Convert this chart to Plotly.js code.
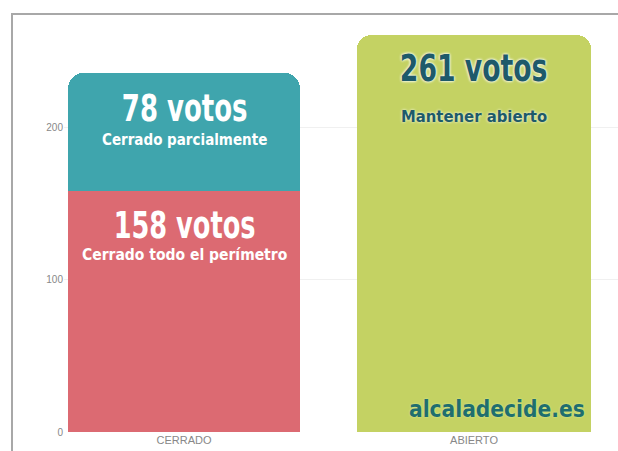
<!DOCTYPE html>
<html>
<head>
<meta charset="utf-8">
<script src="https://cdn.plot.ly/plotly-3.0.1.min.js"></script>
<style>html,body{margin:0;padding:0;background:#fff;}</style>
</head>
<body>
<div id="chart" style="width:618px;height:451px;"></div>
<script>
const categories = ['CERRADO', 'ABIERTO'];
const cerradoTodo = [158];
const cerradoParcial = [78];
const abierto = [261];
const labelTodo = 'Cerrado todo el perímetro';
const labelParcial = 'Cerrado parcialmente';
const labelAbierto = 'Mantener abierto';
const tickValues = [0, 100, 200];
const tickLabels = ['0', '100', '200'];
const watermark = 'alcaladecide.es';

const narrow = '"DejaVu Sans Condensed", "DejaVu Sans", sans-serif';

const traces = [
  {type: 'bar', x: [categories[0]], y: cerradoTodo, marker: {color: '#dc6a72'}, width: 0.8, hoverinfo: 'skip'},
  {type: 'bar', x: [categories[0]], y: cerradoParcial, marker: {color: '#3fa5ad'}, width: 0.8, hoverinfo: 'skip'},
  {type: 'bar', x: [categories[1]], y: abierto, marker: {color: '#c4d263'}, width: 0.81, hoverinfo: 'skip'}
];

const total0 = cerradoTodo[0] + cerradoParcial[0];
// [annotation, horizontal squeeze]
const annSpecs = [
  [{x: categories[0], y: total0 - 23, xref: 'x', yref: 'y', text: '<b>' + cerradoParcial[0] + ' votos</b>', showarrow: false,
   font: {family: narrow, size: 38, color: '#ffffff'}}, 0.76],
  [{x: categories[0], y: total0 - 44, xref: 'x', yref: 'y', text: '<b>' + labelParcial + '</b>', showarrow: false,
   font: {family: narrow, size: 15, color: '#ffffff'}}, 1],
  [{x: categories[0], y: cerradoTodo[0] - 22, xref: 'x', yref: 'y', text: '<b>' + cerradoTodo[0] + ' votos</b>', showarrow: false,
   font: {family: narrow, size: 38, color: '#ffffff'}}, 0.75],
  [{x: categories[0], y: cerradoTodo[0] - 42, xref: 'x', yref: 'y', text: '<b>' + labelTodo + '</b>', showarrow: false,
   font: {family: narrow, size: 15.5, color: '#ffffff'}}, 1],
  [{x: categories[1], y: abierto[0] - 22, xref: 'x', yref: 'y', text: '<b>' + abierto[0] + ' votos</b>', showarrow: false,
   font: {family: narrow, size: 38, color: '#1e5a6a', shadow: '0 0 3px #ffffff, 0 0 3px #ffffff'}}, 0.78],
  [{x: categories[1], y: abierto[0] - 54, xref: 'x', yref: 'y', text: '<b>' + labelAbierto + '</b>', showarrow: false,
   font: {family: narrow, size: 16.5, color: '#1e5a6a', shadow: '0 0 3px #ffffff'}}, 1],
  [{x: 1.08, y: 15, xref: 'x', yref: 'y', text: '<b>' + watermark + '</b>', showarrow: false,
   font: {family: narrow, size: 22.5, color: '#1f6e6e', shadow: '0 0 2px #d8f0a0'}}, 1]
];
const annotations = annSpecs.map(s => s[0]);

const L = 64, W = 554, T = 21, H = 411;
const px = v => (v - L) / W;
const py = v => (T + H - v) / H;

const tickFont = {family: 'Liberation Sans, Arial, sans-serif', size: 10, color: '#888'};

const layout = {
  width: 618, height: 451,
  margin: {l: L, r: 0, t: T, b: 19, pad: 0},
  paper_bgcolor: '#ffffff', plot_bgcolor: '#ffffff',
  barmode: 'stack',
  barcornerradius: 16,
  showlegend: false,
  xaxis: {type: 'category', categoryarray: categories, range: [-0.4138, 1.4966], showgrid: false, zeroline: false,
    showline: false, ticks: '', tickfont: {family: 'Liberation Sans, Arial, sans-serif', size: 11, color: '#888'}, fixedrange: true},
  yaxis: {range: [0, 270], tickvals: tickValues, ticktext: tickLabels, showgrid: true, gridcolor: '#f0f0f0', gridwidth: 1,
    zeroline: false, showline: false, ticks: '', ticklen: 0, tickfont: tickFont, fixedrange: true},
  annotations: annotations,
  shapes: [
    {type: 'line', xref: 'paper', yref: 'paper', x0: px(12), x1: px(12), y0: py(14), y1: py(451), line: {color: '#a8a8a8', width: 2}},
    {type: 'line', xref: 'paper', yref: 'paper', x0: px(11), x1: px(618), y0: py(14), y1: py(14), line: {color: '#a8a8a8', width: 2}}
  ]
};

Plotly.newPlot('chart', traces, layout, {displayModeBar: false, staticPlot: true}).then(gd => {
  const texts = gd.querySelectorAll('.annotation .annotation-text');
  texts.forEach((t, i) => {
    const k = annSpecs[i] ? annSpecs[i][1] : 1;
    if (k === 1) return;
    const bb = t.getBBox();
    const cx = bb.x + bb.width / 2;
    t.setAttribute('transform', 'translate(' + cx + ',0) scale(' + k + ',1) translate(' + (-cx) + ',0)');
  });
});
</script>
</body>
</html>
